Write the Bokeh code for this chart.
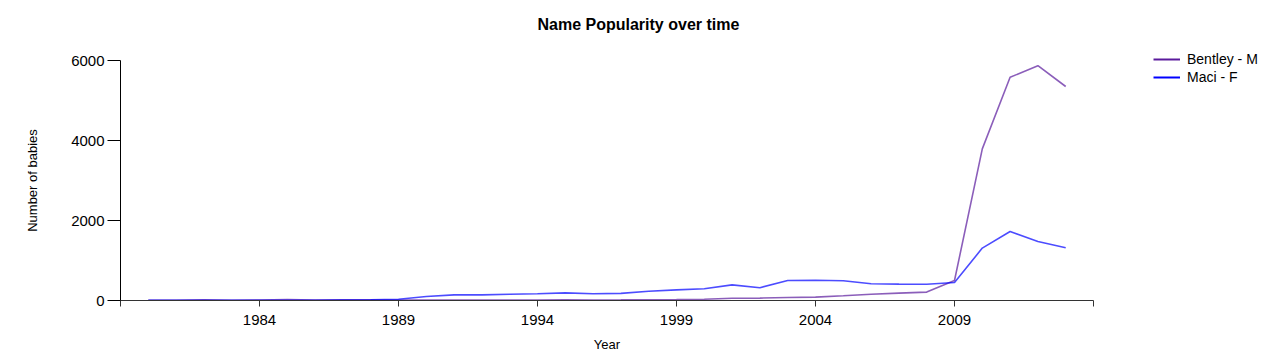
from bokeh.plotting import figure
from bokeh.models import (ColumnDataSource, Range1d, FixedTicker, Legend, LegendItem, Title)
from bokeh.embed import file_html
from bokeh.resources import INLINE

years = list(range(1980, 2014))
bentley = [5, 8, 20, 8, 10, 22, 12, 20, 18, 12,
           10, 12, 10, 12, 14, 15, 14, 15, 18, 22,
           33, 58, 60, 75, 85, 117, 158, 185, 210, 500,
           3790, 5580, 5870, 5350]
maci = [5, 5, 5, 5, 5, 5, 5, 10, 15, 30,
        100, 140, 140, 155, 167, 190, 170, 178, 230, 265,
        292, 390, 320, 500, 505, 495, 420, 410, 405, 450,
        1310, 1725, 1475, 1320]
x_ticks = [1984, 1989, 1994, 1999, 2004, 2009]
y_ticks = [0, 2000, 4000, 6000]
series_names = ["Bentley - M", "Maci - F"]
series_colors = ["#5a1a9c", "#0000ff"]
title_text = "Name Popularity over time"

FONT = "Liberation Sans"

src = ColumnDataSource(dict(year=years, bentley=bentley, maci=maci))

p = figure(frame_width=973, frame_height=240,
           x_range=Range1d(1979, 2014), y_range=Range1d(0, 6000),
           output_backend="svg", toolbar_location=None,
           min_border_left=120, min_border_right=183,
           min_border_top=60, min_border_bottom=55,
           outline_line_color=None, background_fill_color="white",
           border_fill_color="white")

# spacer panel next to the frame, then the real title above it
p.add_layout(Title(text=" ", text_font=FONT, text_font_size="16px", standoff=9), "above")
p.add_layout(Title(text=title_text, align="left", offset=417,
                   text_font=FONT, text_font_size="16px", text_font_style="bold",
                   text_color="#000000", standoff=0), "above")

p.xgrid.visible = False
p.ygrid.visible = False

r1 = p.line("year", "bentley", source=src, line_color=series_colors[0],
            line_width=1.6, line_alpha=0.7)
r2 = p.line("year", "maci", source=src, line_color=series_colors[1],
            line_width=1.6, line_alpha=0.7)

# legend proxies (full colour, no visible data)
nan = float("nan")
proxy = ColumnDataSource(dict(x=[nan], y=[nan]))
l1 = p.line("x", "y", source=proxy, line_color=series_colors[0], line_width=2)
l2 = p.line("x", "y", source=proxy, line_color=series_colors[1], line_width=2)

legend = Legend(items=[LegendItem(label=series_names[0], renderers=[l1]),
                       LegendItem(label=series_names[1], renderers=[l2])],
                location=(60, 214), border_line_color=None,
                background_fill_alpha=0, padding=0, margin=0, spacing=0,
                glyph_width=27, glyph_height=18, label_height=18,
                label_standoff=7, label_text_font=FONT,
                label_text_font_size="14px", label_text_color="#000000")
p.add_layout(legend, "right")

xa = p.xaxis[0]
xa.ticker = FixedTicker(ticks=[1979] + x_ticks + [2014])
xa.major_label_overrides = {1979: "", 2014: ""}
xa.major_tick_out = 6
xa.major_tick_in = 0
xa.minor_tick_out = 0
xa.minor_tick_in = 0
xa.axis_line_color = "#333333"
xa.major_tick_line_color = "#333333"
xa.major_label_text_font = FONT
xa.major_label_text_font_size = "15px"
xa.major_label_text_color = "#000000"
xa.major_label_standoff = 8
xa.axis_label = "Year"
xa.axis_label_text_font = FONT
xa.axis_label_text_font_size = "13px"
xa.axis_label_text_font_style = "normal"
xa.axis_label_text_color = "#000000"
xa.axis_label_standoff = 9

ya = p.yaxis[0]
ya.ticker = FixedTicker(ticks=y_ticks)
ya.major_tick_out = 13
ya.major_tick_in = 0
ya.minor_tick_out = 0
ya.minor_tick_in = 0
ya.axis_line_color = "#000000"
ya.major_tick_line_color = "#000000"
ya.major_label_text_font = FONT
ya.major_label_text_font_size = "15px"
ya.major_label_text_color = "#000000"
ya.major_label_standoff = 3
ya.axis_label = "Number of babies"
ya.axis_label_text_font = FONT
ya.axis_label_text_font_size = "13px"
ya.axis_label_text_font_style = "normal"
ya.axis_label_text_color = "#000000"
ya.axis_label_standoff = 28

open("out.html", "w").write(file_html(p, INLINE))
